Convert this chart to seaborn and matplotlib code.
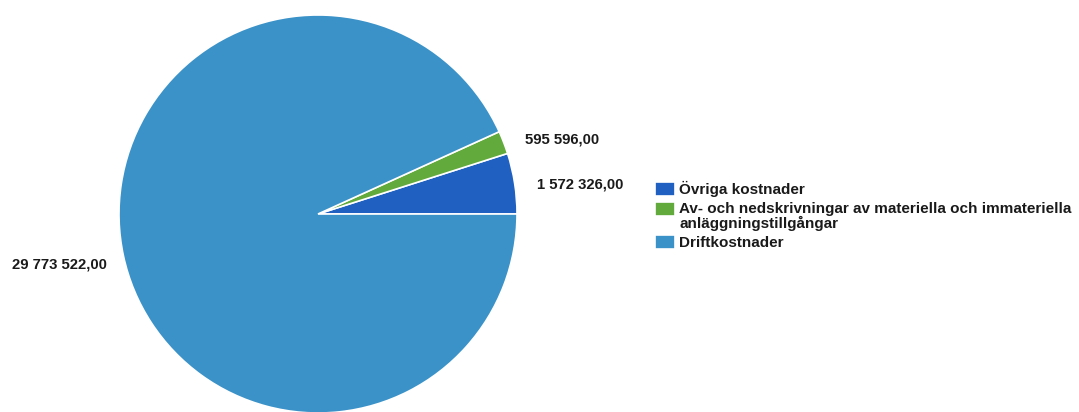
import matplotlib
matplotlib.use("Agg")
import matplotlib.pyplot as plt
import seaborn as sns

categories = ["Övriga kostnader",
              "Av- och nedskrivningar av materiella och immateriella\nanläggningstillgångar",
              "Driftkostnader"]
values = [1572326.00, 595596.00, 29773522.00]
colors = ["#1f60c0", "#62aa3c", "#3a92c8"]

def fmt(v):
    return f"{v:,.2f}".replace(",", " ").replace(".", ",")

value_labels = [fmt(v) for v in values]

sns.set_theme(style="white")
plt.rcParams["font.family"] = ["Liberation Sans", "DejaVu Sans"]

W, H = 1079, 412
CX, CY = 318, H - 214
fig = plt.figure(figsize=(W / 100, H / 100), dpi=100)
ax = fig.add_axes([0, 0, 1, 1])

wedges, texts = ax.pie(values, colors=colors, startangle=0, counterclock=True,
                       center=(CX, CY), radius=199,
                       labels=value_labels, labeldistance=1.1,
                       wedgeprops=dict(edgecolor="white", linewidth=1.2),
                       textprops=dict(fontsize=10.7, fontweight="bold", color="#1a1a1a"))
for t in texts:
    x, y = t.get_position()
    t.set_horizontalalignment("left" if x >= CX else "right")
    t.set_position((x + (3 if x >= CX else 3), y - 4))
ax.set_xlim(0, W)
ax.set_ylim(0, H)
ax.set_aspect("equal")
ax.axis("off")

leg = ax.legend(wedges, categories, loc="upper left",
                bbox_to_anchor=(655 / W, 1 - 181 / H), frameon=False,
                borderpad=0, borderaxespad=0,
                prop=dict(weight="bold", size=11),
                handlelength=1.3, handleheight=1.0, handletextpad=0.3,
                labelspacing=0.3)
for t in leg.get_texts():
    t.set_color("#1a1a1a")
    t.set_linespacing(1.0)
# align the handle of the two-line entry with its first line
h = leg.legend_handles[1]
h.set_y(h.get_y() + 5.5)

fig.savefig("out.png", dpi=100)
